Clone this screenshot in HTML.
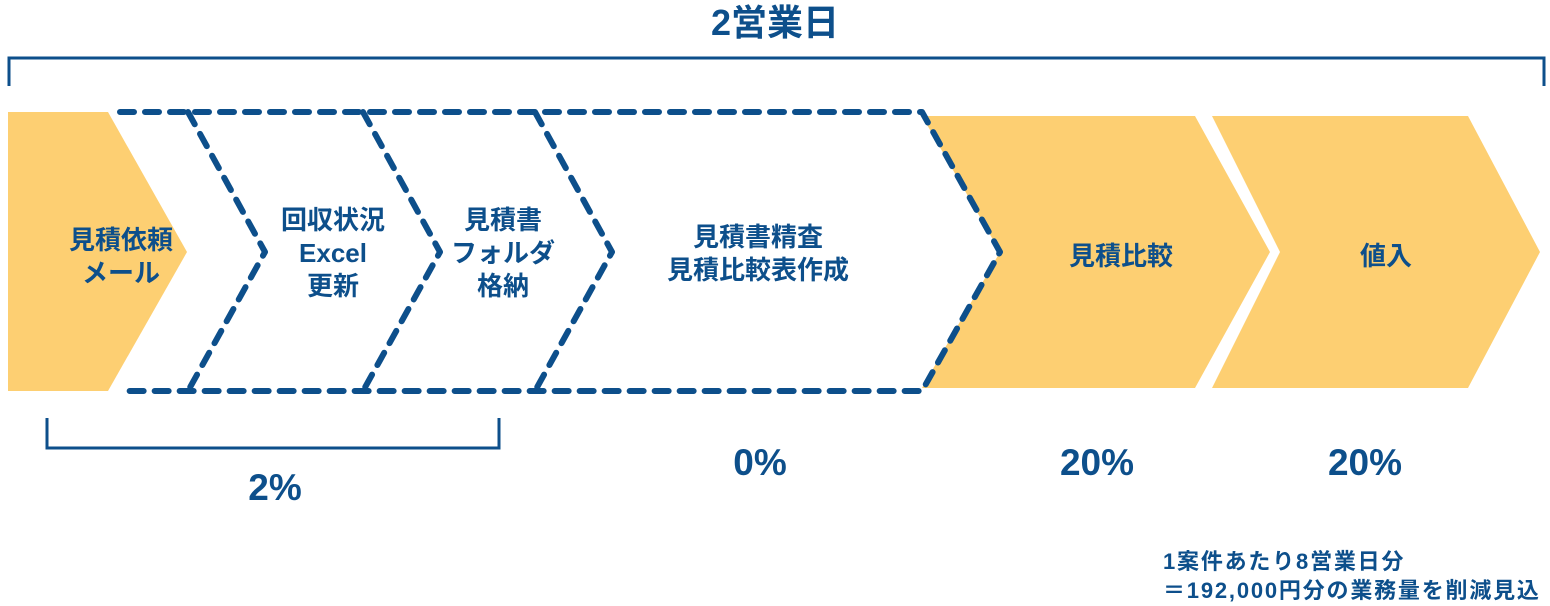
<!DOCTYPE html>
<html><head><meta charset="utf-8"><style>
body{margin:0;background:#fff;width:1550px;height:606px;overflow:hidden;font-family:"Liberation Sans","Noto Sans CJK JP",sans-serif;}
</style></head><body>
<svg width="1550" height="606" viewBox="0 0 1550 606" xmlns="http://www.w3.org/2000/svg" style="position:absolute;left:0;top:0">
<g fill="#fdcf72">
<polygon points="8,112 108,112 187,252 108,391 8,391"/>
<polygon points="922,116 1195,116 1270,252 1195,388 922,388 1000,252"/>
<polygon points="1212,116 1468,116 1540,252 1468,388 1212,388 1280,252"/>
</g>
<g fill="none" stroke="#0d4f8b" stroke-width="6" stroke-linecap="round" stroke-linejoin="round" stroke-dasharray="14 11">
<path d="M120,112 L922,112 L1000,252 L922,391 L120,391"/>
<path d="M188,112 L265,252 L188,391"/>
<path d="M363,112 L440,252 L363,391"/>
<path d="M535,112 L612,252 L535,391"/>
</g>
<g fill="none" stroke="#0d4f8b" stroke-width="3">
<path d="M9,86 L9,58 L1544,58 L1544,86"/>
<path d="M47,418 L47,448 L499,448 L499,418"/>
</g>
<g fill="#0d4f8b" font-family="Liberation Sans, Noto Sans CJK JP, sans-serif" font-weight="bold" text-anchor="middle">
<text x="775" y="35" font-size="36">2営業日</text>
<g font-size="26">
<text x="121" y="249">見積依頼</text>
<text x="121" y="282">メール</text>
<text x="333" y="229">回収状況</text>
<text x="333" y="262">Excel</text>
<text x="333" y="295">更新</text>
<text x="503" y="229">見積書</text>
<text x="503" y="262">フォルダ</text>
<text x="503" y="295">格納</text>
<text x="758" y="246">見積書精査</text>
<text x="758" y="279">見積比較表作成</text>
<text x="1121" y="265">見積比較</text>
<text x="1386" y="265">値入</text>
</g>
<g font-size="37">
<text x="275" y="500">2%</text>
<text x="760" y="475">0%</text>
<text x="1097" y="475">20%</text>
<text x="1365" y="475">20%</text>
</g>
<g font-size="22" text-anchor="start" letter-spacing="1.8">
<text x="1163" y="569">1案件あたり8営業日分</text>
<text x="1163" y="598">＝192,000円分の業務量を削減見込</text>
</g>
</g>
</svg>
</body></html>
